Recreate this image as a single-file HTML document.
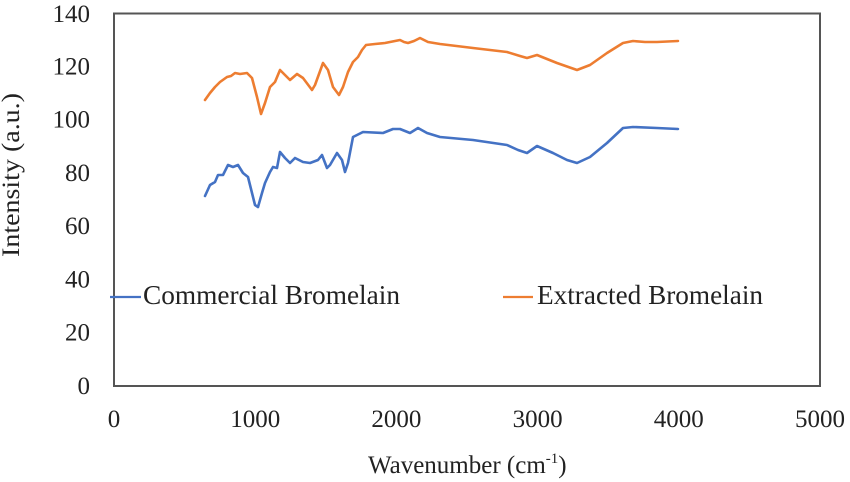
<!DOCTYPE html>
<html>
<head>
<meta charset="utf-8">
<style>
  html, body { margin:0; padding:0; background:#fff; }
  svg { display:block; }
  text { font-family: "Liberation Serif", "Times New Roman", serif; fill:#222; }
</style>
</head>
<body>
<svg width="850" height="482" viewBox="0 0 850 482" xmlns="http://www.w3.org/2000/svg">
  <rect x="0" y="0" width="850" height="482" fill="#fff"/>
  <!-- plot box -->
  <rect x="114" y="13.5" width="706" height="372.5" fill="none" stroke="#555" stroke-width="2"/>

  <!-- y tick labels -->
  <g font-size="25" text-anchor="end">
    <text x="90" y="394">0</text>
    <text x="90" y="340.7">20</text>
    <text x="90" y="287.4">40</text>
    <text x="90" y="234.2">60</text>
    <text x="90" y="180.9">80</text>
    <text x="90" y="127.6">100</text>
    <text x="90" y="74.3">120</text>
    <text x="90" y="22">140</text>
  </g>
  <!-- x tick labels -->
  <g font-size="25" text-anchor="middle">
    <text x="114" y="427">0</text>
    <text x="255.2" y="427">1000</text>
    <text x="396.4" y="427">2000</text>
    <text x="537.6" y="427">3000</text>
    <text x="678.8" y="427">4000</text>
    <text x="820" y="427">5000</text>
  </g>

  <!-- axis titles -->
  <text x="368" y="473" font-size="25">Wavenumber (cm<tspan font-size="15" dy="-10">-1</tspan><tspan dy="10">)</tspan></text>
  <text transform="translate(19,175) rotate(-90)" text-anchor="middle" font-size="25" textLength="164" lengthAdjust="spacingAndGlyphs">Intensity (a.u.)</text>

  <!-- series -->
  <polyline fill="none" stroke="#ED7D31" stroke-width="2.6" stroke-linejoin="round" stroke-linecap="round"
    points="205,100 210,93 215,87 220,82 227,77 231,76 235,73 240,74 247,73 252,78 257,97 261,114 265,103 270,87 275,82 280,70 285,75 290,80 297,74 303,78 312,90 315,85 323,63 328,70 333,87 339,95 343,87 348,72 353,62 358,57 362,50 366,45 375,44 385,43 390,42 400,40 404,42 408,43 414,41 420,38 428,42 440,44 473,48 507,52 520,56 527,58 537,55 557,63 577,70 590,65 607,53 623,43 633,41 645,42 657,42 678,41"/>
  <polyline fill="none" stroke="#4472C4" stroke-width="2.6" stroke-linejoin="round" stroke-linecap="round"
    points="205,196 210,185 215,182 218,175 223,175 228,165 233,167 238,165 243,173 248,177 252,193 255,205 258,207 262,193 265,183 270,172 273,167 277,168 280,152 285,158 290,163 295,158 303,162 310,163 318,160 322,155 327,168 330,165 337,153 342,160 345,172 348,163 353,137 363,132 383,133 393,129 400,129 410,133 418,128 427,133 440,137 473,140 507,145 518,150 527,153 537,146 553,153 567,160 577,163 590,157 607,143 623,128 633,127 657,128 678,129"/>

  <!-- legend -->
  <line x1="110" y1="297" x2="141" y2="297" stroke="#4472C4" stroke-width="2.2"/>
  <text x="143" y="304" font-size="27" textLength="257" lengthAdjust="spacingAndGlyphs">Commercial Bromelain</text>
  <line x1="503" y1="297" x2="533" y2="297" stroke="#ED7D31" stroke-width="2.2"/>
  <text x="537" y="304" font-size="27" textLength="226" lengthAdjust="spacingAndGlyphs">Extracted Bromelain</text>
</svg>
</body>
</html>
